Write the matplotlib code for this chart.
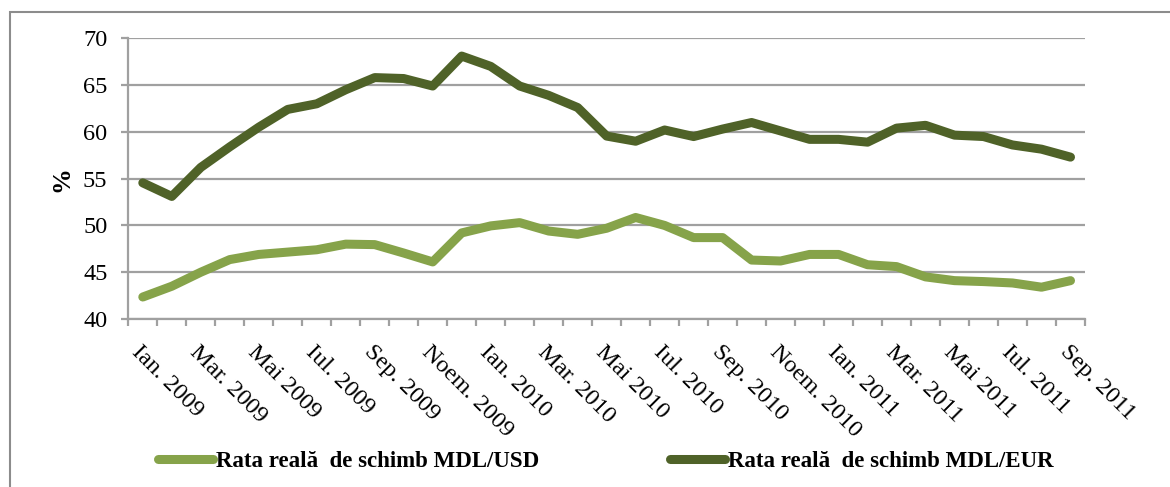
import matplotlib
matplotlib.use("Agg")
import matplotlib.pyplot as plt
from matplotlib.lines import Line2D
from matplotlib.patches import Rectangle

plt.rcParams['font.family'] = ['Liberation Serif', 'DejaVu Serif']

# monthly values, Jan 2009 - Sep 2011
months = ['Ian. 2009', 'Feb. 2009', 'Mar. 2009', 'Apr. 2009', 'Mai 2009', 'Iun. 2009',
          'Iul. 2009', 'Aug. 2009', 'Sep. 2009', 'Oct. 2009', 'Noem. 2009', 'Dec. 2009',
          'Ian. 2010', 'Feb. 2010', 'Mar. 2010', 'Apr. 2010', 'Mai 2010', 'Iun. 2010',
          'Iul. 2010', 'Aug. 2010', 'Sep. 2010', 'Oct. 2010', 'Noem. 2010', 'Dec. 2010',
          'Ian. 2011', 'Feb. 2011', 'Mar. 2011', 'Apr. 2011', 'Mai 2011', 'Iun. 2011',
          'Iul. 2011', 'Aug. 2011', 'Sep. 2011']
usd = [42.35, 43.5, 45.0, 46.35, 46.9, 47.15, 47.4, 48.0, 47.95, 47.05, 46.1,
       49.2, 49.95, 50.3, 49.4, 49.05, 49.7, 50.85, 50.0, 48.7, 48.7, 46.3,
       46.2, 46.9, 46.9, 45.8, 45.6, 44.5, 44.1, 44.0, 43.85, 43.4, 44.1]
eur = [54.55, 53.1, 56.2, 58.4, 60.5, 62.4, 63.0, 64.5, 65.8, 65.7, 64.9,
       68.1, 67.0, 64.9, 63.9, 62.6, 59.55, 59.0, 60.2, 59.5, 60.3, 61.0,
       60.1, 59.2, 59.2, 58.9, 60.4, 60.7, 59.65, 59.5, 58.6, 58.15, 57.3]
usd_label = 'Rata reală  de schimb MDL/USD'
eur_label = 'Rata reală  de schimb MDL/EUR'

usd_color = '#86A34A'
eur_color = '#4F6228'
grid_color = '#A0A0A0'

W, H = 1170, 487
fig = plt.figure(figsize=(W / 100, H / 100), dpi=100)
ax = fig.add_axes([128.3 / W, 1 - 319 / H, 956.7 / W, (319 - 38.3) / H])

x = list(range(len(months)))
ax.plot(x, usd, color=usd_color, lw=6.5, solid_joinstyle='round', solid_capstyle='round', zorder=3)
ax.plot(x, eur, color=eur_color, lw=6.5, solid_joinstyle='round', solid_capstyle='round', zorder=3)

ax.set_xlim(-0.5, len(months) - 0.5)
ax.set_ylim(40, 70)
ax.set_yticks(range(40, 71, 5))
ax.yaxis.grid(True, color=grid_color, lw=1.6)
ax.set_axisbelow(True)

for side in ['top', 'right']:
    ax.spines[side].set_visible(False)
for side in ['left', 'bottom']:
    ax.spines[side].set_color(grid_color)
    ax.spines[side].set_linewidth(1.6)

# labels on every other month, tick marks on category boundaries
ax.set_xticks(x[::2])
ax.set_xticklabels(months[::2], rotation=-45, ha='left', va='top', rotation_mode='anchor')
ax.set_xticks([i - 0.5 for i in range(len(months) + 1)], minor=True)
ax.tick_params(axis='x', which='major', length=0, pad=16, labelsize=17.5)
ax.tick_params(axis='x', which='minor', length=5, width=1.6, color=grid_color, direction='out')
ax.tick_params(axis='y', length=5, width=1.6, color=grid_color, pad=10, labelsize=17.5)

ax.set_ylabel('%', fontsize=18.5, fontweight='bold', labelpad=7)

# outer chart frame
fig.patches.append(Rectangle((10 / W, -0.1), 1.2, 1 - 12 / H + 0.1, transform=fig.transFigure,
                             fill=False, edgecolor='#8C8C8C', lw=1.5))

for lab, col, x0 in [(usd_label, usd_color, 158), (eur_label, eur_color, 670)]:
    h = Line2D([], [], color=col, lw=6.5, solid_capstyle='round')
    fig.legend([h], [lab], loc='center left', bbox_to_anchor=(x0 / W, 1 - 461 / H),
               frameon=False, borderpad=0, borderaxespad=0, handlelength=2.4,
               handletextpad=0.12, prop={'weight': 'bold', 'size': 16.5})

fig.savefig('out.png', dpi=100)
